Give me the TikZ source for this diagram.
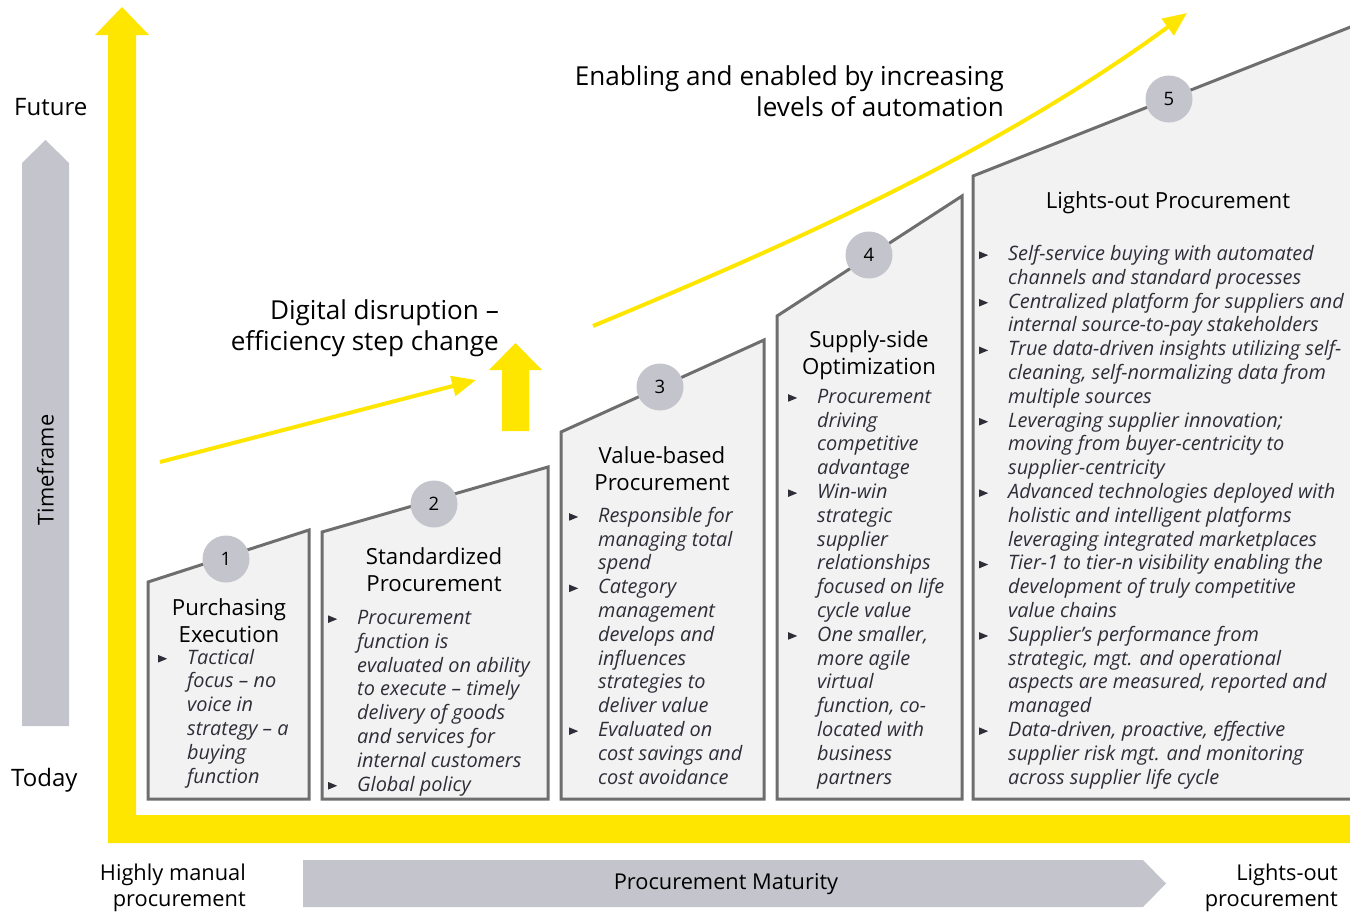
\documentclass[tikz,border=0pt]{standalone}
\usepackage{fontspec}
\setmainfont{Open Sans}
\usetikzlibrary{arrows.meta}
\definecolor{eyyellow}{HTML}{FFE600}
\definecolor{eygray}{HTML}{C4C4CD}
\definecolor{boxfill}{HTML}{F2F2F2}
\definecolor{boxline}{HTML}{6E6E6E}
\definecolor{bultext}{HTML}{2E2E38}
\newcommand{\bul}{\llap{\tikz[baseline=0pt]\fill[bultext] (0pt,1.5pt)--(0pt,9pt)--(9pt,5.25pt)--cycle;\hspace{20pt}}}
\begin{document}
\begin{tikzpicture}[x=1pt, y=-1pt,
  stagebox/.style={draw=boxline, fill=boxfill, line width=3pt, line join=miter},
  stagenum/.style={circle, fill=eygray, minimum size=47pt, inner sep=0pt, font=\fontsize{18.5}{18.5}\selectfont},
  stagetitle/.style={align=center, anchor=base, inner sep=0pt, font=\fontsize{22.2}{26.5}\selectfont},
  bullets/.style={align=left, anchor=base west, inner sep=0pt, text=bultext, font=\fontsize{19.9}{23.8}\selectfont\itshape},
  axistext/.style={inner sep=0pt, font=\fontsize{21.8}{26}\selectfont},
  bigaxistext/.style={inner sep=0pt, anchor=base west, font=\fontsize{24}{26}\selectfont},
  headtext/.style={align=right, anchor=base east, inner sep=0pt, font=\fontsize{26.1}{31}\selectfont},
  thinarrow/.style={draw=eyyellow, line width=4pt, -{Triangle[length=24pt,width=20pt]}}]
\useasboundingbox (0,0) rectangle (1350,911);
\clip (0,0) rectangle (1350,911);

\fill[eyyellow] (108,843) -- (108,35) -- (95,35) -- (122,7) -- (149,35) -- (136,35)
  -- (136,815) -- (1350,815) -- (1350,843) -- cycle;
\fill[eygray] (22,726) -- (22,163) -- (45.5,140) -- (69,163) -- (69,726) -- cycle;
\fill[eygray] (303,860) -- (1143,860) -- (1166,883.5) -- (1143,907) -- (303,907) -- cycle;

\node[bigaxistext] (future) at (14,115) {Future};
\node[bigaxistext] (today) at (11,786) {Today};
\node[axistext, rotate=90] (timeframe) at (45.5,470) {Timeframe};
\node[axistext, align=right, anchor=base east] (manual) at (246,906) {Highly manual\\procurement};
\node[axistext, align=right, anchor=base east] (lightsout) at (1338,906) {Lights-out\\procurement};
\node[axistext] (maturity) at (726,884) {Procurement Maturity};

\draw[stagebox] (148,799) -- (148,582) -- (309,530) -- (309,799) -- cycle;
\draw[stagebox] (322,799) -- (322,532) -- (548,467) -- (548,799) -- cycle;
\draw[stagebox] (561,799) -- (561,432) -- (764,340) -- (764,799) -- cycle;
\draw[stagebox] (777,799) -- (777,316) -- (962,196) -- (962,799) -- cycle;
\draw[stagebox] (973,799) -- (973,176) -- (1353,26) -- (1353,799) -- cycle;

\node[stagenum] (n1) at (226,559) {1};
\node[stagenum] (n2) at (434,504) {2};
\node[stagenum] (n3) at (660,387) {3};
\node[stagenum] (n4) at (869,255) {4};
\node[stagenum] (n5) at (1169,99) {5};

\node[stagetitle] (t1) at (229,642) {Purchasing\\Execution};
\node[stagetitle] (t2) at (434,591) {Standardized\\Procurement};
\node[stagetitle] (t3) at (662,490) {Value-based\\Procurement};
\node[stagetitle] (t4) at (869,374) {Supply-side\\Optimization};
\node[stagetitle] (t5) at (1168,208) {Lights-out Procurement};

\node[bullets] (b1) at (187,783) {\bul Tactical\\focus -- no\\voice in\\strategy -- a\\buying\\function};
\node[bullets] (b2) at (357,791) {\bul Procurement\\function is\\evaluated on ability\\to execute -- timely\\delivery of goods\\and services for\\internal customers\\\bul Global policy};
\node[bullets] (b3) at (598,784) {\bul Responsible for\\managing total\\spend\\\bul Category\\management\\develops and\\influences\\strategies to\\deliver value\\\bul Evaluated on\\cost savings and\\cost avoidance};
\node[bullets] (b4) at (817,784) {\bul Procurement\\driving\\competitive\\advantage\\\bul Win-win\\strategic\\supplier\\relationships\\focused on life\\cycle value\\\bul One smaller,\\more agile\\virtual\\function, co-\\located with\\business\\partners};
\node[bullets] (b5) at (1008,784) {\bul Self-service buying with automated\\channels and standard processes\\\bul Centralized platform for suppliers and\\internal source-to-pay stakeholders\\\bul True data-driven insights utilizing self-\\cleaning, self-normalizing data from\\multiple sources\\\bul Leveraging supplier innovation;\\moving from buyer-centricity to\\supplier-centricity\\\bul Advanced technologies deployed with\\holistic and intelligent platforms\\leveraging integrated marketplaces\\\bul Tier-1 to tier-n visibility enabling the\\development of truly competitive\\value chains\\\bul Supplier's performance from\\strategic, mgt. and operational\\aspects are measured, reported and\\managed\\\bul Data-driven, proactive, effective\\supplier risk mgt. and monitoring\\across supplier life cycle};

\node[headtext] (disruption) at (499,350) {Digital disruption --\\efficiency step change};
\node[headtext] (automation) at (1004,116) {Enabling and enabled by increasing\\levels of automation};

\coordinate (s1) at (160,462);
\coordinate (e1) at (476,380);
\coordinate (s2) at (593,326);
\coordinate (e2) at (1187,13);
\draw[thinarrow] (s1) -- (e1);
\draw[thinarrow] (s2) .. controls (800,240) and (1000,150) .. (e2);
\fill[eyyellow] (502,431) -- (502,370) -- (489,370) -- (515.5,343) -- (542,370) -- (529,370) -- (529,431) -- cycle;
\end{tikzpicture}
\end{document}
